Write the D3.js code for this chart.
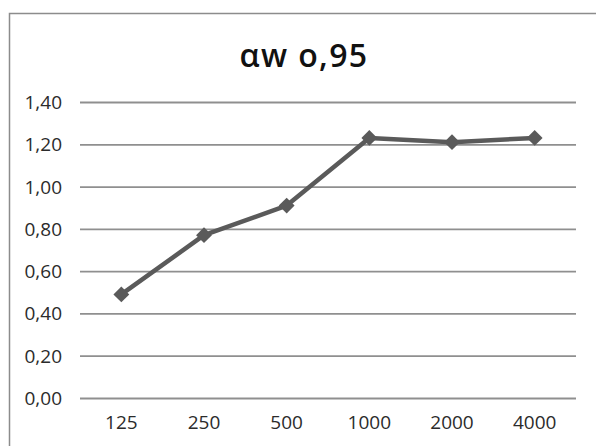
<!DOCTYPE html>
<html>
<head>
<meta charset="utf-8">
<script src="https://cdn.jsdelivr.net/npm/d3@7"></script>
<style>
  body { margin: 0; background: #fff; }
  text { font-family: "Open Sans", "Noto Sans", sans-serif; }
</style>
</head>
<body>
<div id="chart"></div>
<script>
// Chart data
var categories = ["125", "250", "500", "1000", "2000", "4000"];
var values = [0.49, 0.77, 0.91, 1.23, 1.21, 1.23];
var yTicks = [0, 0.2, 0.4, 0.6, 0.8, 1.0, 1.2, 1.4];
var title = "αw o,95";

var width = 596;
var height = 446;

var svg = d3.select("#chart")
  .append("svg")
  .attr("width", width)
  .attr("height", height);

// Outer chart frame (runs off the right and bottom edge)
svg.append("rect")
  .attr("x", 9.5)
  .attr("y", 13.5)
  .attr("width", 600)
  .attr("height", 450)
  .attr("fill", "none")
  .attr("stroke", "#8c8c8c")
  .attr("stroke-width", 1.5);

var plotLeft = 80, plotRight = 576;
var plotTop = 102, plotBottom = 398;

var xScale = d3.scaleBand()
  .domain(categories)
  .range([plotLeft, plotRight]);

var yScale = d3.scaleLinear()
  .domain([0, 1.4])
  .range([plotBottom, plotTop]);

// Gridlines + y labels
var yAxis = d3.axisLeft(yScale)
  .tickValues(yTicks)
  .tickSize(-(plotRight - plotLeft))
  .tickPadding(18)
  .tickFormat(function(d) { return d3.format(".2f")(d).replace(".", ","); });

var gy = svg.append("g")
  .attr("transform", "translate(" + plotLeft + ",0)")
  .call(yAxis);
gy.attr("font-size", 19).attr("font-family", null);
gy.select(".domain").remove();
gy.selectAll("line").attr("stroke", "#8f8f8f").attr("stroke-width", 1.8);
gy.selectAll("text")
  .attr("fill", "#2b2b2b")
  .attr("dy", "0.34em");

// x labels
var xAxis = d3.axisBottom(xScale).tickSize(0).tickPadding(18);
var gx = svg.append("g")
  .attr("transform", "translate(0," + plotBottom + ")")
  .call(xAxis);
gx.attr("font-size", 19).attr("font-family", null);
gx.select(".domain").remove();
gx.selectAll("text")
  .attr("fill", "#2b2b2b");

// Title
svg.append("text")
  .attr("x", 304)
  .attr("y", 67)
  .attr("text-anchor", "middle")
  .style("font-size", "32px")
  .style("letter-spacing", "1.4px")
  .attr("font-weight", 600)
  .attr("fill", "#111")
  .text(title);

// Line
var pts = categories.map(function(c, i) { return { c: c, v: values[i] }; });
var line = d3.line()
  .x(function(d) { return xScale(d.c) + xScale.bandwidth() / 2; })
  .y(function(d) { return yScale(d.v); });

svg.append("path")
  .datum(pts)
  .attr("d", line)
  .attr("fill", "none")
  .attr("stroke", "#5a5a5a")
  .attr("stroke-width", 4.5)
  .attr("stroke-linejoin", "round");

// Diamond markers
svg.selectAll(".marker")
  .data(pts)
  .enter()
  .append("path")
  .attr("class", "marker")
  .attr("d", d3.symbol().type(d3.symbolDiamond2).size(160))
  .attr("transform", function(d) {
    return "translate(" + (xScale(d.c) + xScale.bandwidth() / 2) + "," + yScale(d.v) + ")";
  })
  .attr("fill", "#5a5a5a");
</script>
</body>
</html>
